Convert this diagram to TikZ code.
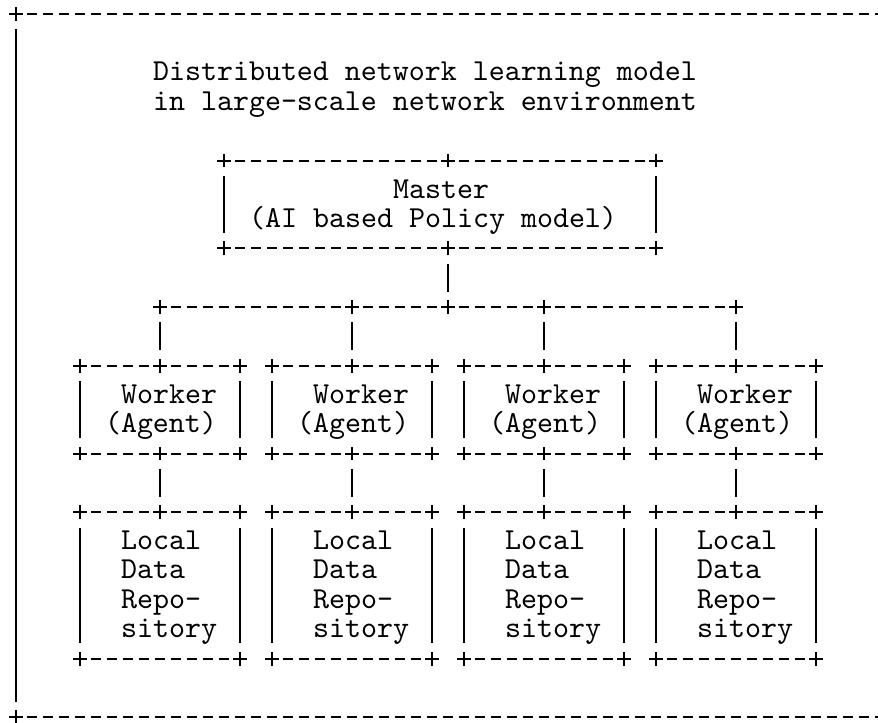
\documentclass[tikz,border=0pt]{standalone}
\usepackage{fontspec}
\newfontfamily\asciifont{lmmono10-regular.otf}
\usetikzlibrary{shapes.misc}

\begin{document}
\begin{tikzpicture}[x=12pt,y=-21.975pt,line width=1.5pt,
  hline/.style={dash pattern=on 7.8pt off 4.2pt,dash phase=3.9pt},
  vline/.style={shorten <=11.6pt,shorten >=11.6pt},
  plus/.style={draw,cross out,rotate=45,minimum size=7.4pt,inner sep=0pt,outer sep=0pt},
  txt/.style={font={\asciifont\fontsize{22.857pt}{24pt}\selectfont},inner sep=0pt,anchor=base west}]
\useasboundingbox (-1,-0.478) rectangle (53.875,24.164);
%
% outer frame (open to the right)
\node[plus] (fTL) at (0,0) {};\node[plus] (fBL) at (0,24) {};
\coordinate (fTR) at (55,0);\coordinate (fBR) at (55,24);
\draw[hline] (fTL.center) -- (fTR);
\draw[hline] (fBL.center) -- (fBR);
\draw[vline] (fTL.center) -- (fBL.center);
%
\node[txt] (title1) at (8.5,2.28) {Distributed network learning model};
\node[txt] (title2) at (8.5,3.28) {in large-scale network environment};
%
% master box
\node[plus] (mTL) at (13,5) {};\node[plus] (mT) at (27,5) {};\node[plus] (mTR) at (40,5) {};
\node[plus] (mBL) at (13,8) {};\node[plus] (mB) at (27,8) {};\node[plus] (mBR) at (40,8) {};
\draw[hline] (mTL.center) -- (mTR.center);\draw[hline] (mBL.center) -- (mBR.center);
\draw[vline] (mTL.center) -- (mBL.center);\draw[vline] (mTR.center) -- (mBR.center);
\node[txt] (master1) at (23.5,6.28) {Master};
\node[txt] (master2) at (14.5,7.28) {(AI based Policy model)};
%
% distribution line
\node[plus] (d1) at (9,10) {};\node[plus] (d2) at (21,10) {};\node[plus] (dM) at (27,10) {};
\node[plus] (d3) at (33,10) {};\node[plus] (d4) at (45,10) {};
\draw[hline] (d1.center) -- (d4.center);
\draw[vline] (mB.center) -- (dM.center);
%
% worker 1
\node[plus] (w1TL) at (4,12) {};\node[plus] (w1T) at (9,12) {};\node[plus] (w1TR) at (14,12) {};
\node[plus] (w1BL) at (4,15) {};\node[plus] (w1B) at (9,15) {};\node[plus] (w1BR) at (14,15) {};
\draw[hline] (w1TL.center) -- (w1TR.center);\draw[hline] (w1BL.center) -- (w1BR.center);
\draw[vline] (w1TL.center) -- (w1BL.center);\draw[vline] (w1TR.center) -- (w1BR.center);
\node[txt] (w1a) at (6.5,13.28) {Worker};\node[txt] (w1b) at (5.5,14.28) {(Agent)};
\draw[vline] (d1.center) -- (w1T.center);
%
% worker 2
\node[plus] (w2TL) at (16,12) {};\node[plus] (w2T) at (21,12) {};\node[plus] (w2TR) at (26,12) {};
\node[plus] (w2BL) at (16,15) {};\node[plus] (w2B) at (21,15) {};\node[plus] (w2BR) at (26,15) {};
\draw[hline] (w2TL.center) -- (w2TR.center);\draw[hline] (w2BL.center) -- (w2BR.center);
\draw[vline] (w2TL.center) -- (w2BL.center);\draw[vline] (w2TR.center) -- (w2BR.center);
\node[txt] (w2a) at (18.5,13.28) {Worker};\node[txt] (w2b) at (17.5,14.28) {(Agent)};
\draw[vline] (d2.center) -- (w2T.center);
%
% worker 3
\node[plus] (w3TL) at (28,12) {};\node[plus] (w3T) at (33,12) {};\node[plus] (w3TR) at (38,12) {};
\node[plus] (w3BL) at (28,15) {};\node[plus] (w3B) at (33,15) {};\node[plus] (w3BR) at (38,15) {};
\draw[hline] (w3TL.center) -- (w3TR.center);\draw[hline] (w3BL.center) -- (w3BR.center);
\draw[vline] (w3TL.center) -- (w3BL.center);\draw[vline] (w3TR.center) -- (w3BR.center);
\node[txt] (w3a) at (30.5,13.28) {Worker};\node[txt] (w3b) at (29.5,14.28) {(Agent)};
\draw[vline] (d3.center) -- (w3T.center);
%
% worker 4
\node[plus] (w4TL) at (40,12) {};\node[plus] (w4T) at (45,12) {};\node[plus] (w4TR) at (50,12) {};
\node[plus] (w4BL) at (40,15) {};\node[plus] (w4B) at (45,15) {};\node[plus] (w4BR) at (50,15) {};
\draw[hline] (w4TL.center) -- (w4TR.center);\draw[hline] (w4BL.center) -- (w4BR.center);
\draw[vline] (w4TL.center) -- (w4BL.center);\draw[vline] (w4TR.center) -- (w4BR.center);
\node[txt] (w4a) at (42.5,13.28) {Worker};\node[txt] (w4b) at (41.5,14.28) {(Agent)};
\draw[vline] (d4.center) -- (w4T.center);
%
% local data repositories
\node[plus] (r1TL) at (4,17) {};\node[plus] (r1T) at (9,17) {};\node[plus] (r1TR) at (14,17) {};
\node[plus] (r1BL) at (4,22) {};\node[plus] (r1BR) at (14,22) {};
\draw[hline] (r1TL.center) -- (r1TR.center);\draw[hline] (r1BL.center) -- (r1BR.center);
\draw[vline] (r1TL.center) -- (r1BL.center);\draw[vline] (r1TR.center) -- (r1BR.center);
\draw[vline] (w1B.center) -- (r1T.center);
\node[txt] (r1a) at (6.5,18.28) {Local};\node[txt] (r1b) at (6.5,19.28) {Data};
\node[txt] (r1c) at (6.5,20.28) {Repo-};\node[txt] (r1d) at (6.5,21.28) {sitory};
%
\node[plus] (r2TL) at (16,17) {};\node[plus] (r2T) at (21,17) {};\node[plus] (r2TR) at (26,17) {};
\node[plus] (r2BL) at (16,22) {};\node[plus] (r2BR) at (26,22) {};
\draw[hline] (r2TL.center) -- (r2TR.center);\draw[hline] (r2BL.center) -- (r2BR.center);
\draw[vline] (r2TL.center) -- (r2BL.center);\draw[vline] (r2TR.center) -- (r2BR.center);
\draw[vline] (w2B.center) -- (r2T.center);
\node[txt] (r2a) at (18.5,18.28) {Local};\node[txt] (r2b) at (18.5,19.28) {Data};
\node[txt] (r2c) at (18.5,20.28) {Repo-};\node[txt] (r2d) at (18.5,21.28) {sitory};
%
\node[plus] (r3TL) at (28,17) {};\node[plus] (r3T) at (33,17) {};\node[plus] (r3TR) at (38,17) {};
\node[plus] (r3BL) at (28,22) {};\node[plus] (r3BR) at (38,22) {};
\draw[hline] (r3TL.center) -- (r3TR.center);\draw[hline] (r3BL.center) -- (r3BR.center);
\draw[vline] (r3TL.center) -- (r3BL.center);\draw[vline] (r3TR.center) -- (r3BR.center);
\draw[vline] (w3B.center) -- (r3T.center);
\node[txt] (r3a) at (30.5,18.28) {Local};\node[txt] (r3b) at (30.5,19.28) {Data};
\node[txt] (r3c) at (30.5,20.28) {Repo-};\node[txt] (r3d) at (30.5,21.28) {sitory};
%
\node[plus] (r4TL) at (40,17) {};\node[plus] (r4T) at (45,17) {};\node[plus] (r4TR) at (50,17) {};
\node[plus] (r4BL) at (40,22) {};\node[plus] (r4BR) at (50,22) {};
\draw[hline] (r4TL.center) -- (r4TR.center);\draw[hline] (r4BL.center) -- (r4BR.center);
\draw[vline] (r4TL.center) -- (r4BL.center);\draw[vline] (r4TR.center) -- (r4BR.center);
\draw[vline] (w4B.center) -- (r4T.center);
\node[txt] (r4a) at (42.5,18.28) {Local};\node[txt] (r4b) at (42.5,19.28) {Data};
\node[txt] (r4c) at (42.5,20.28) {Repo-};\node[txt] (r4d) at (42.5,21.28) {sitory};
\end{tikzpicture}
\end{document}
